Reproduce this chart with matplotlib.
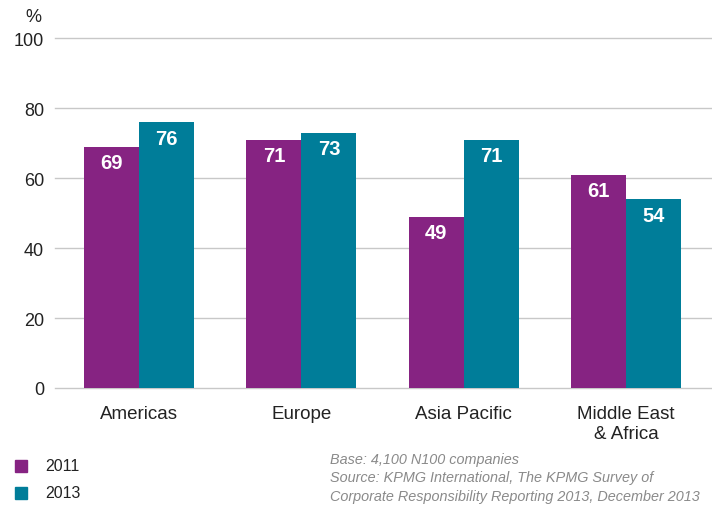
import numpy as np
import matplotlib.pyplot as plt
from matplotlib.patches import Rectangle

plt.rcParams['font.family'] = ['Liberation Sans', 'DejaVu Sans']

regions = ['Americas', 'Europe', 'Asia Pacific', 'Middle East\n& Africa']
years = ['2011', '2013']
vals_2011 = [69, 71, 49, 61]
vals_2013 = [76, 73, 71, 54]
yticks = [0, 20, 40, 60, 80, 100]

purple = '#862382'
teal = '#007d99'
grid = '#c8c8c8'
txt = '#222222'

fig = plt.figure(figsize=(7.12, 5.06), dpi=100)
ax = fig.add_axes([55 / 712, 1 - 389 / 506, 1 - 55 / 712, (389 - 39) / 506])

x = np.arange(len(regions))
w = 0.339
b1 = ax.bar(x - w / 2, vals_2011, w, color=purple, zorder=3)
b2 = ax.bar(x + w / 2, vals_2013, w, color=teal, zorder=3)

for bars, vals in ((b1, vals_2011), (b2, vals_2013)):
    for r, v in zip(bars, vals):
        ax.text(r.get_x() + r.get_width() / 2, v - 4.6, str(v), ha='center', va='center',
                color='white', fontsize=14.5, fontweight='bold', zorder=4)

ax.set_xlim(-0.518, 3.53)
ax.set_ylim(0, 100)
ax.set_yticks(yticks)
ax.set_yticklabels([str(t) for t in yticks], fontsize=13, color=txt)
ax.yaxis.grid(True, color=grid, linewidth=1, zorder=0)
for gl in ax.get_ygridlines():
    gl.set_clip_on(False)
ax.set_xticks(x)
ax.set_xticklabels(regions, fontsize=13.5, color=txt, linespacing=1.25)
ax.tick_params(axis='both', length=0)
ax.tick_params(axis='y', pad=8)
ax.tick_params(axis='x', pad=12)
for s in ax.spines.values():
    s.set_visible(False)

fig.text(33 / 712, 1 - 17 / 506, '%', fontsize=13, color=txt, ha='center', va='center')

# legend
for i, (yr, c) in enumerate(zip(years, [purple, teal])):
    yc = 467 + i * 27
    fig.patches.append(Rectangle((15 / 712, 1 - (yc + 6) / 506), 12 / 712, 12 / 506,
                                 transform=fig.transFigure, color=c))
    fig.text(45 / 712, 1 - yc / 506, yr, fontsize=11.5, color=txt, va='center')

src = ['Base: 4,100 N100 companies',
       'Source: KPMG International, The KPMG Survey of',
       'Corporate Responsibility Reporting 2013, December 2013']
for i, line in enumerate(src):
    fig.text(330 / 712, 1 - (460 + i * 18.5) / 506, line, fontsize=10.4, style='italic',
             color='#8a8a8a', va='center')

fig.savefig('out.png', dpi=100)
